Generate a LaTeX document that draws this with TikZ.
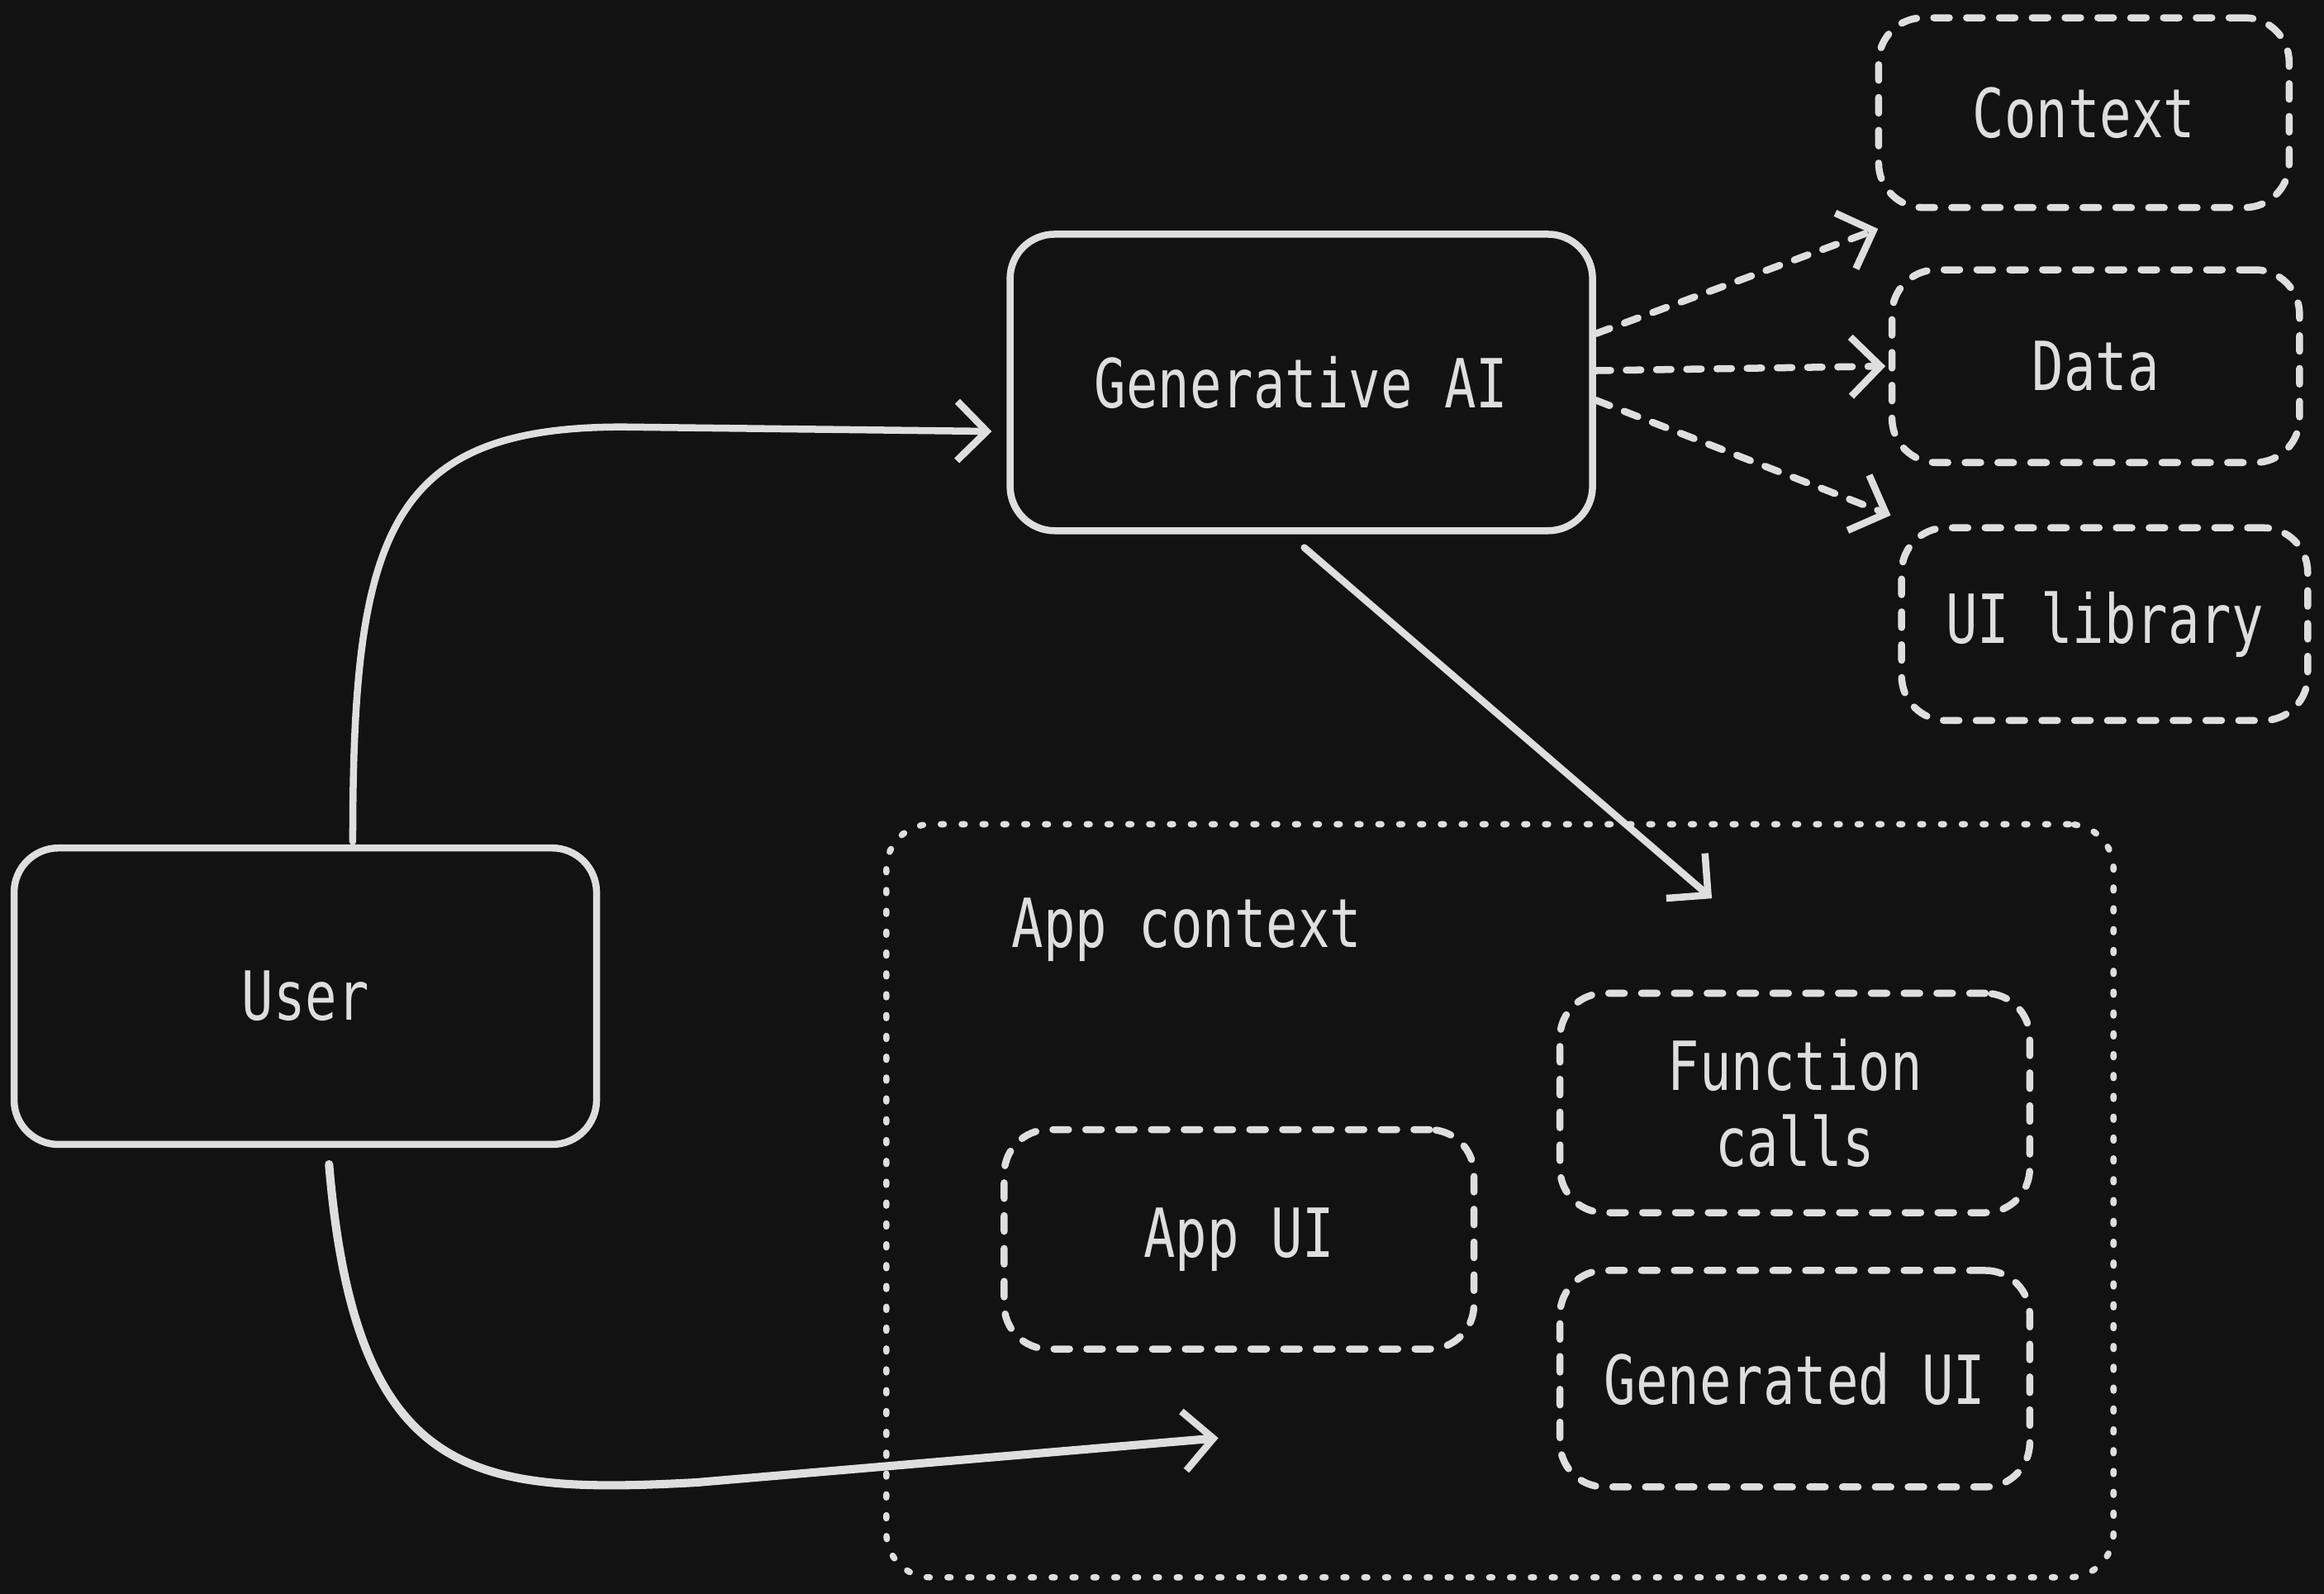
\documentclass[tikz,border=0pt]{standalone}
\usepackage{fontspec}
\setmonofont[FakeStretch=0.78]{DejaVu Sans Mono}
\usetikzlibrary{arrows.meta}
\definecolor{bgcolor}{HTML}{121212}
\definecolor{inkcolor}{HTML}{DEDEDE}
\tikzset{
  box/.style = {draw = inkcolor, line width = 1.35pt, rounded corners = 3mm, minimum width = 39.3mm, minimum height = 20mm, text = inkcolor, align = center, font = \ttfamily\fontsize{13}{14.5}\selectfont},
  dashbox/.style = {box, line cap = round, dash pattern = on 3pt off 3.3pt},
  label/.style = {text = inkcolor, inner sep = 0pt, font = \ttfamily\fontsize{13}{14.5}\selectfont},
  flow/.style = {draw = inkcolor, line width = 1.35pt, line cap = round, -{Straight Barb[length = 2mm, width = 4mm, line width = 1.35pt]}},
  dashflow/.style = {flow, dash pattern = on 2.8pt off 3pt}
}
\begin{document}
\begin{tikzpicture}[x = 0.1mm, y = -0.1mm]
\fill[bgcolor] (0,0) rectangle (1568,1075);
\useasboundingbox (0,0) rectangle (1568,1075);
\node[box] (genai) at (878,258) {Generative AI};
\node[box] (user) at (206,672) {User};
\node[dashbox, minimum width = 27.7mm, minimum height = 12.8mm] (context) at (1406,76) {Context};
\node[dashbox, minimum width = 27.5mm, minimum height = 13mm] (data) at (1414,247) {Data};
\node[dashbox, minimum width = 27.4mm, minimum height = 13mm] (uilib) at (1420,421) {UI library};
\node[draw = inkcolor, line width = 1.2pt, line cap = round, dash pattern = on 0.6pt off 3.4pt, rounded corners = 3mm, minimum width = 82.8mm, minimum height = 50.8mm] (appctx) at (1012,810) {};
\node[label, anchor = west] (appctxlabel) at (682,627) {App context};
\node[dashbox, minimum width = 31.7mm, minimum height = 14.8mm] (funcs) at (1211,744) {Function\\calls};
\node[dashbox, minimum width = 31.7mm, minimum height = 14.8mm] (appui) at (836,836) {App UI};
\node[dashbox, minimum width = 31.7mm, minimum height = 14.6mm] (genui) at (1211,930) {Generated UI};
\coordinate (aiend) at (1155,606);
\coordinate (userend) at (822,970);
\draw[flow] ([xshift = 3.2mm, yshift = 0.2mm]user.north) .. controls (238,360) and (262,288) .. (420,288) -- ([xshift = -1mm, yshift = -3.3mm]genai.west);
\draw[flow, line width = 1.6pt] ([xshift = 1.6mm, yshift = -1.1mm]user.south) .. controls (240,1000) and (320,1008) .. (470,1000) -- (userend);
\draw[flow] ([xshift = 0.2mm, yshift = -0.9mm]genai.south) -- (aiend);
\draw[dashflow] ([yshift = 3.3mm]genai.east) -- ([xshift = 0.2mm, yshift = -1.2mm]context.south west);
\draw[dashflow] ([yshift = 0.8mm]genai.east) -- ([xshift = -0.2mm]data.west);
\draw[dashflow] ([yshift = -1.2mm]genai.east) -- ([xshift = -0.5mm, yshift = 0.6mm]uilib.north west);
\end{tikzpicture}
\end{document}
